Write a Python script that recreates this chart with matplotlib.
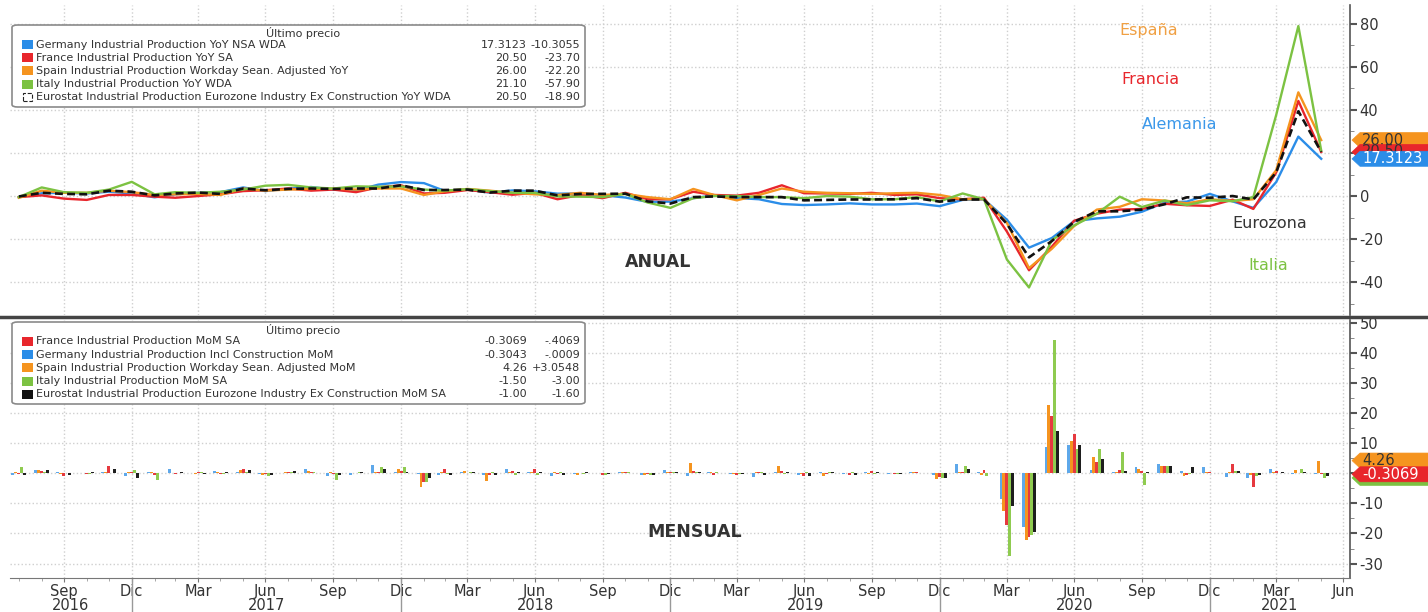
import matplotlib
matplotlib.use("Agg")
import matplotlib.pyplot as plt
import matplotlib.dates as mdates
import matplotlib.transforms as mtransforms
from matplotlib.lines import Line2D
from matplotlib.patches import Rectangle, FancyBboxPatch, Polygon
import numpy as np
import pandas as pd

plt.rcParams['font.family'] = ['DejaVu Sans']
plt.rcParams['axes.unicode_minus'] = False

# ---- data (monthly, Jul 2016 .. May 2021) ----
months = pd.date_range('2016-07-01', periods=59, freq='MS') + pd.offsets.MonthEnd(0)

germany_yoy = [-0.5, 1.3, 1.5, 1.2, 2.0, 1.2,
               -0.6, 0.8, 1.5, 1.8, 4.0, 2.3, 3.4, 4.2, 3.0, 2.5, 5.3, 6.5,
               6.0, 2.4, 3.0, 1.6, 2.6, 2.2, 1.1, 1.2, 0.4, -0.7, -2.7, -2.6,
               -1.0, 0.3, -0.9, -1.5, -3.7, -4.2, -3.9, -3.4, -3.9, -3.9, -3.5, -4.7,
               -1.8, -1.6, -11.0, -24.0, -19.5, -11.7, -10.4, -9.6, -7.3, -3.0, -2.6, 1.0,
               -2.5, -5.5, 6.5, 27.6178, 17.3123]
france_yoy = [-0.5, 0.3, -1.2, -1.8, 0.5, 0.5,
              -0.3, -0.8, 0.0, 0.8, 2.3, 2.7, 3.5, 2.5, 3.0, 1.8, 4.0, 5.0,
              1.2, 1.5, 2.8, 1.8, 0.6, 1.5, -1.5, 0.5, -1.0, 1.5, -1.5, -1.5,
              2.0, 0.5, 0.2, 1.5, 5.0, 1.3, 1.2, 1.0, 1.5, 0.5, 0.8, -1.0,
              -1.5, -0.8, -16.5, -34.5, -23.5, -11.5, -8.2, -6.3, -6.0, -3.6, -4.3, -4.6,
              -1.7, -6.0, 11.0, 44.2, 20.5]
spain_yoy = [-0.8, 2.5, 1.5, 1.5, 2.5, 1.8,
             0.5, 0.8, 1.0, 0.5, 3.5, 2.5, 3.0, 3.3, 3.5, 3.0, 3.5, 3.5,
             0.5, 2.2, 3.3, 2.5, 1.5, 0.8, 0.5, 1.5, 0.5, 1.0, -0.5, -1.5,
             3.3, 0.5, -2.0, 0.5, 3.5, 2.0, 1.5, 1.3, 1.0, 1.3, 1.5, 0.5,
             -1.5, -1.5, -12.5, -33.5, -24.5, -14.0, -6.3, -5.0, -1.5, -2.1, -3.4, -1.5,
             -2.3, -1.5, 12.0, 48.2, 26.0]
italy_yoy = [-0.5, 4.0, 1.8, 1.5, 3.0, 6.6,
             0.8, 1.8, 1.5, 2.0, 3.0, 4.8, 5.2, 4.0, 3.5, 4.5, 4.3, 4.5,
             3.0, 2.5, 3.2, 2.3, 1.5, 1.5, -0.2, -0.3, -0.5, 1.0, -3.0, -5.5,
             -1.0, 0.0, 0.0, -0.5, -0.5, -1.0, 0.0, -0.3, -1.5, -1.5, -0.5, -2.5,
             1.2, -1.5, -29.5, -42.5, -20.5, -13.7, -8.2, -0.3, -5.1, -2.1, -4.2, -2.0,
             -2.4, -0.5, 37.7, 79.0, 21.1]
eurozone_yoy = [-0.2, 1.5, 1.0, 0.8, 2.5, 2.0,
                0.3, 1.2, 1.6, 1.0, 3.5, 2.7, 3.3, 3.5, 3.3, 3.5, 3.5, 5.0,
                2.8, 2.8, 3.0, 1.6, 2.5, 2.5, 0.3, 1.0, 1.0, 1.1, -2.5, -3.5,
                -0.5, -0.2, -0.5, -0.5, -0.5, -2.0, -1.8, -1.6, -1.6, -1.5, -1.0, -2.6,
                -1.6, -1.6, -12.9, -28.5, -20.9, -12.0, -7.1, -7.1, -6.3, -3.8, -0.6, -0.8,
                0.0, -1.6, 11.0, 39.4, 20.5]

germany_mom = [-0.5, 1.0, 0.3, 0.2, 0.4, -1.0,
               0.3, 1.5, 0.2, 0.8, 0.5, -0.3, 0.2, 1.3, -0.8, -0.5, 2.9, 0.4,
               -0.3, -0.5, 0.3, -0.6, 1.5, 0.3, -0.8, -0.3, 0.2, 0.3, -0.4, 1.0,
               -1.0, 0.4, -0.3, -1.3, 0.4, -0.5, 0.3, -0.3, 0.3, -0.2, 0.4, -0.5,
               3.2, 0.3, -8.4, -17.7, 8.7, 9.4, 1.0, 0.5, 2.0, 3.1, 0.9, 2.0,
               -1.3, -1.6, 1.6, -0.3034, -0.3043]
spain_mom = [0.3, 1.0, -0.3, 0.2, 0.5, 0.3,
             0.5, 0.2, -0.3, 0.3, 1.0, -0.5, 0.3, 0.8, 0.4, 0.2, 0.3, 1.5,
             -4.6, 0.3, 0.8, -2.4, 0.3, 0.4, 0.5, -0.4, 0.2, 0.6, -0.5, 0.5,
             3.6, 0.3, -0.3, 0.3, 2.5, -0.3, -1.0, 0.2, -0.3, 0.2, 0.3, -2.0,
             0.5, -0.5, -12.4, -22.2, 22.6, 10.7, 5.4, 0.5, 1.4, 2.5, -0.8, 0.6,
             0.3, -0.5, 0.6, 1.2052, 4.26]
france_mom = [-0.3, 0.8, -1.0, -0.2, 2.5, 0.5,
              -0.5, -0.3, 0.5, -0.2, 1.5, -0.3, 0.3, 0.3, -0.3, 0.2, 0.5, 0.8,
              -3.0, 1.5, 0.2, -0.5, 0.8, 1.3, -0.3, 0.2, -0.5, 0.5, -0.3, 0.3,
              0.8, -0.4, -0.5, 0.3, 0.8, -0.9, -0.3, -0.4, 0.7, -0.2, 0.4, -1.2,
              0.5, 1.2, -17.3, -21.0, 19.0, 13.0, 3.8, 1.2, 0.9, 2.5, -0.5, 0.5,
              3.1, -4.6, 0.8, 0.1, -0.3069]
italy_mom = [2.0, 0.3, 0.2, -0.3, 0.2, 1.0,
             -2.3, 0.2, 0.3, -0.2, 0.3, -0.8, 0.4, 0.3, -2.2, 0.3, 2.0, 2.0,
             -3.0, -0.3, 0.5, 0.3, -0.5, -0.5, 0.3, -0.2, -0.6, 0.3, -0.6, 0.3,
             0.5, 0.5, -0.2, 0.6, -0.3, 0.3, 0.5, 0.3, -0.2, -0.3, 0.2, -1.5,
             2.6, -0.8, -27.6, -20.6, 44.4, 8.0, 8.0, 7.0, -4.0, 2.5, -0.2, 0.1,
             0.9, -0.8, 0.1, 1.5, -1.5]
eurozone_mom = [-0.5, 1.2, -0.5, 0.5, 1.3, -1.5,
                0.2, 0.5, -0.2, 0.3, 1.2, -0.5, 0.8, 0.2, -0.4, 0.3, 1.5, 0.5,
                -1.5, -0.5, 0.5, -0.6, 0.3, 0.5, -0.6, 0.3, -0.2, 0.2, -0.7, 0.4,
                0.6, 0.2, -0.3, -0.4, 0.5, -1.0, 0.3, -0.4, 0.3, -0.2, 0.2, -1.5,
                1.5, 0.0, -10.7, -19.4, 14.0, 9.4, 4.8, 0.7, 0.3, 2.5, 2.0, 0.0,
                0.8, -0.6, 0.4, 0.6, -1.0]

# legend texts
top_names = ['Germany Industrial Production YoY NSA WDA',
             'France Industrial Production YoY SA',
             'Spain Industrial Production Workday Sean. Adjusted YoY',
             'Italy Industrial Production YoY WDA',
             'Eurostat Industrial Production Eurozone Industry Ex Construction YoY WDA']
top_last = ['17.3123', '20.50', '26.00', '21.10', '20.50']
top_chg = ['-10.3055', '-23.70', '-22.20', '-57.90', '-18.90']
bot_names = ['France Industrial Production MoM SA',
             'Germany Industrial Production Incl Construction MoM',
             'Spain Industrial Production Workday Sean. Adjusted MoM',
             'Italy Industrial Production MoM SA',
             'Eurostat Industrial Production Eurozone Industry Ex Construction MoM SA']
bot_last = ['-0.3069', '-0.3043', '4.26', '-1.50', '-1.00']
bot_chg = ['-.4069', '-.0009', '+3.0548', '-3.00', '-1.60']

BLUE = '#2b8de8'
RED = '#e8262c'
ORANGE = '#f5941f'
GREEN = '#7cc242'
BLACK = '#111111'
GRID = '#cfcfcf'
TXT = '#333333'

W, H = 1428, 612
def fx(x):
    return x / W
def fy(y):
    return 1 - y / H

fig = plt.figure(figsize=(W / 100, H / 100), dpi=100)
ax1 = fig.add_axes([fx(10), fy(315), fx(1340), 310 / H])
ax2 = fig.add_axes([fx(10), fy(578), fx(1340), 258 / H])

x = mdates.date2num(months)
xmin = mdates.date2num(pd.Timestamp('2016-07-19'))
xmax = mdates.date2num(pd.Timestamp('2021-07-09'))

# ---- top panel: YoY lines ----
ax1.plot(x, germany_yoy, color=BLUE, lw=1.7, zorder=3)
ax1.plot(x, france_yoy, color=RED, lw=1.7, zorder=3)
ax1.plot(x, spain_yoy, color=ORANGE, lw=1.7, zorder=3)
ax1.plot(x, italy_yoy, color=GREEN, lw=1.7, zorder=3)
ax1.plot(x, eurozone_yoy, color=BLACK, lw=1.9, ls=(0, (3, 1.6)), zorder=4)
ax1.set_ylim(-55.3, 88.8)
ax1.set_yticks([80, 60, 40, 20, 0, -20, -40])
ax1.set_yticks(np.arange(-50, 90, 10), minor=True)

# ---- bottom panel: MoM bars ----
bw = 4.0
ax2.bar(x - 2 * bw, germany_mom, width=bw, color='#5ea8ea', zorder=3)
ax2.bar(x - bw, spain_mom, width=bw, color=ORANGE, zorder=3)
ax2.bar(x, france_mom, width=bw, color='#e6393f', zorder=3)
ax2.bar(x + bw, italy_mom, width=bw, color='#8fcb50', zorder=3)
ax2.bar(x + 2 * bw, eurozone_mom, width=bw, color='#1e1e1e', zorder=3)
ax2.set_ylim(-34.8, 51)
ax2.set_yticks([50, 40, 30, 20, 10, 0, -10, -20, -30])
ax2.set_yticks(np.arange(-30, 51, 5), minor=True)

allm = pd.date_range('2016-01-01', '2021-12-31', freq='MS') + pd.offsets.MonthEnd(0)
quarters = [d for d in allm if d.month in (3, 6, 9, 12)]
qx = mdates.date2num(quarters)
qx = qx[(qx > xmin) & (qx < xmax)]
mnames = {3: 'Mar', 6: 'Jun', 9: 'Sep', 12: 'Dic'}
mx = mdates.date2num(allm)
mx = mx[(mx > xmin) & (mx < xmax)]

for ax in (ax1, ax2):
    ax.set_xlim(xmin, xmax)
    ax.yaxis.tick_right()
    ax.set_xticks(qx)
    ax.set_xticks(mx, minor=True)
    ax.grid(True, which='major', color=GRID, ls=':', lw=1.0, zorder=0)
    for s in ('top', 'left'):
        ax.spines[s].set_visible(False)
    ax.spines['right'].set_color('#555555')
    ax.spines['right'].set_linewidth(1.2)
    ax.tick_params(axis='y', which='major', direction='out', length=5, width=1.5,
                   colors='#555555', labelcolor=TXT, labelsize=10.5, pad=2)
    ax.tick_params(axis='y', which='minor', direction='out', length=3, colors='#777777')
    ax.set_facecolor('white')

ax1.spines['bottom'].set_visible(False)
ax1.tick_params(axis='x', which='both', length=0, labelbottom=False)

ax2.spines['bottom'].set_color('#777777')
ax2.set_xticklabels([mnames[pd.Timestamp(mdates.num2date(v)).month] for v in qx])
ax2.tick_params(axis='x', which='major', direction='out', length=3, colors='#777777',
                labelcolor=TXT, labelsize=10.5, pad=1)
ax2.tick_params(axis='x', which='minor', direction='out', length=2, colors='#999999')

# years below months
blend = mtransforms.blended_transform_factory(ax2.transData, ax2.transAxes)
for yr in range(2016, 2022):
    a = max(mdates.date2num(pd.Timestamp(f'{yr - 1}-12-31')), xmin)
    b = min(mdates.date2num(pd.Timestamp(f'{yr}-12-31')), xmax)
    ax2.text((a + b) / 2, -27 / 258, str(yr), transform=blend, ha='center', va='center',
             fontsize=10.5, color=TXT)
    if yr < 2021:
        ax2.plot([b, b], [0, -34 / 258], transform=blend, color='#999999', lw=1, clip_on=False)

# separator between panels
fig.add_artist(Line2D([0, 1], [fy(317), fy(317)], transform=fig.transFigure, color='#444444', lw=2.5))

# ---- value badges on the right axis ----
def badge(ax, val, label, fc, tc, z):
    yc = ax.transData.transform((x[0], val))[1]
    h = 15
    pts = [(1352, yc), (1360, yc - h / 2), (W, yc - h / 2), (W, yc + h / 2), (1360, yc + h / 2)]
    fig.add_artist(Polygon([(px / W, py / H) for px, py in pts], closed=True,
                           transform=fig.transFigure, fc=fc, ec=fc, lw=0.5, zorder=z))
    fig.text(1362 / W, yc / H, label, fontsize=10.5, color=tc, ha='left', va='center', zorder=z)

badge(ax1, 26.0, '26.00', ORANGE, TXT, 30)
badge(ax1, 20.5, '20.50', RED, TXT, 31)
badge(ax1, 17.3123, '17.3123', BLUE, 'white', 32)
badge(ax2, -1.5, '', GREEN, 'white', 30)
badge(ax2, 4.26, '4.26', ORANGE, TXT, 31)
badge(ax2, -0.3069, '-0.3069', RED, 'white', 32)

# ---- series labels ----
fig.text(fx(1149), fy(31), 'España', color='#f0a043', fontsize=11.5, ha='center', va='center')
fig.text(fx(1150), fy(80), 'Francia', color=RED, fontsize=11.5, ha='center', va='center')
fig.text(fx(1180), fy(125), 'Alemania', color='#3b98ea', fontsize=11.5, ha='center', va='center')
fig.text(fx(1270), fy(223), 'Eurozona', color=TXT, fontsize=11.5, ha='center', va='center')
fig.text(fx(1268), fy(266), 'Italia', color=GREEN, fontsize=11.5, ha='center', va='center')
fig.text(fx(658), fy(262), 'ANUAL', color=TXT, fontsize=12.5, fontweight='bold', ha='center', va='center')
fig.text(fx(695), fy(532), 'MENSUAL', color=TXT, fontsize=12.5, fontweight='bold', ha='center', va='center')

# ---- legend boxes ----
def legend_box(top, names, last, chg, colors, dashed_last):
    fig.add_artist(FancyBboxPatch((fx(12), fy(top + 82)), fx(573), 82 / H,
                                  boxstyle='round,pad=0,rounding_size=0.004',
                                  transform=fig.transFigure, fc='white', ec='#8a8a8a', lw=1.2, zorder=20))
    fig.text(fx(303), fy(top + 8), 'Último precio', fontsize=8, color=TXT, ha='center', va='center', zorder=21)
    for k, name in enumerate(names):
        yy = top + 19.5 + 13.2 * k
        if dashed_last and k == len(names) - 1:
            fig.add_artist(Rectangle((fx(23), fy(yy + 4)), fx(9), 8 / H, transform=fig.transFigure,
                                     fc='white', ec='#222222', lw=0.8, ls='--', zorder=21))
        else:
            fig.add_artist(Rectangle((fx(22), fy(yy + 4.5)), fx(11), 9 / H, transform=fig.transFigure,
                                     fc=colors[k], ec='none', zorder=21))
        fig.text(fx(36), fy(yy), name, fontsize=8, color=TXT, ha='left', va='center', zorder=21)
        fig.text(fx(527), fy(yy), last[k], fontsize=8, color=TXT, ha='right', va='center', zorder=21)
        fig.text(fx(580), fy(yy), chg[k], fontsize=8, color=TXT, ha='right', va='center', zorder=21)

legend_box(25, top_names, top_last, top_chg, [BLUE, RED, ORANGE, GREEN, BLACK], True)
legend_box(322, bot_names, bot_last, bot_chg, [RED, BLUE, ORANGE, GREEN, BLACK], False)

fig.savefig('out.png', dpi=100, facecolor='white')
